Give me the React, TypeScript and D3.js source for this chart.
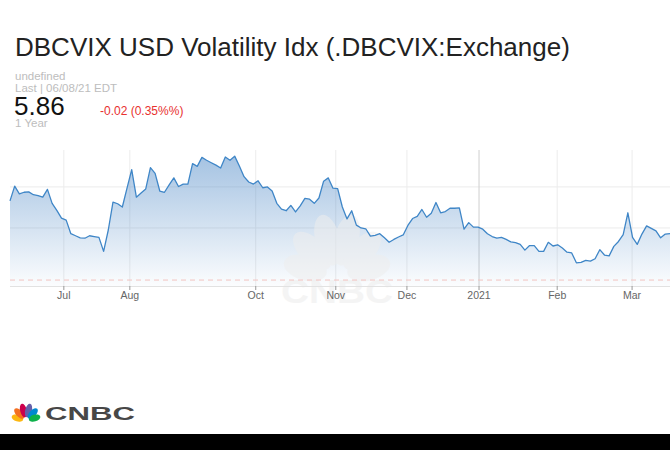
import React from "react";
import * as d3 from "d3";

// DBCVIX closing levels, oldest first (one point per sample in the 1-year window)
const values: number[] = [
  6.66, 7.02, 6.83, 6.87, 6.88, 6.81, 6.79, 6.75, 6.94, 6.6,
  6.43, 6.24, 6.19, 5.86, 5.81, 5.76, 5.75, 5.81, 5.79, 5.77,
  5.43, 5.95, 6.63, 6.59, 6.51, 6.97, 7.42, 6.75, 6.85, 6.95,
  7.47, 7.33, 6.9, 6.87, 7.05, 7.22, 7.01, 7.07, 7.07, 7.57,
  7.5, 7.72, 7.65, 7.59, 7.53, 7.46, 7.73, 7.65, 7.75, 7.51,
  7.25, 7.12, 7.07, 7.15, 6.98, 7.0, 6.9, 6.6, 6.46, 6.42,
  6.55, 6.39, 6.54, 6.72, 6.7, 6.6, 6.73, 7.14, 7.22, 6.97,
  6.96, 6.51, 6.22, 6.42, 6.07, 6.0, 5.98, 5.8, 5.82, 5.86,
  5.76, 5.65, 5.72, 5.78, 5.83, 6.06, 6.23, 6.28, 6.45, 6.26,
  6.36, 6.62, 6.37, 6.4, 6.48, 6.48, 6.49, 5.97, 6.13, 6.02,
  6.02, 5.97, 5.86, 5.79, 5.75, 5.77, 5.72, 5.66, 5.64, 5.6,
  5.46, 5.57, 5.57, 5.43, 5.43, 5.65, 5.56, 5.59, 5.51, 5.41,
  5.39, 5.15, 5.16, 5.21, 5.19, 5.25, 5.47, 5.34, 5.32, 5.55,
  5.67, 5.84, 6.37, 5.77, 5.6, 5.85, 6.05, 5.99, 5.93, 5.76,
  5.85, 5.86,
];

// Month boundaries, given as positions along the sample index
const monthLabels: string[] = ["Jul", "Aug", "Oct", "Nov", "Dec", "2021", "Feb", "Mar"];
const monthAt: number[] = [11.5, 25.6, 52.5, 69.6, 84.8, 100.2, 116.9, 132.9];

const gridLevels: number[] = [6, 7];
const referenceLevel = 4.73;

const titleText = "DBCVIX USD Volatility Idx (.DBCVIX:Exchange)";
const lastPrice = "5.86";
const change = "-0.02 (0.35%%)";

const FONT = "'Liberation Sans', Arial, Helvetica, sans-serif";

const featherColors = ["#fcb711", "#f37021", "#cc004c", "#6460aa", "#0089d0", "#0db14b"];
const featherAngles = [-74, -44, -14, 14, 44, 74];

function Peacock({ cx, cy, s, colors, opacity = 1 }: { cx: number; cy: number; s: number; colors: string[]; opacity?: number }) {
  return (
    <g opacity={opacity}>
      {featherAngles.map((a, i) => {
        const inner = Math.abs(a) < 20;
        const d = (inner ? 38 : Math.abs(a) < 50 ? 36 : 33) * s;
        const ry = (inner ? 26 : Math.abs(a) < 50 ? 24 : 22) * s;
        const rx = 12.5 * s;
        return (
          <ellipse
            key={i}
            cx={cx}
            cy={cy - d}
            rx={rx}
            ry={ry}
            fill={colors[i]}
            transform={`rotate(${a} ${cx} ${cy})`}
          />
        );
      })}
    </g>
  );
}

export default function App() {
  const W = 670;
  const H = 450;
  const left = 10;
  const right = 670;
  const top = 150;
  const bottom = 286;

  const x = d3.scaleLinear().domain([0, values.length - 1]).range([left, right]);
  const y = d3.scaleLinear().domain([4.585, 7.9]).range([bottom, top]);

  const line = d3
    .line<number>()
    .x((_, i) => x(i))
    .y((d) => y(d));
  const area = d3
    .area<number>()
    .x((_, i) => x(i))
    .y0(bottom)
    .y1((d) => y(d));

  const wmColors = featherColors.map(() => "#eeeeee");

  return (
    <svg
      width={W}
      height={H}
      viewBox={`0 0 ${W} ${H}`}
      style={{ position: "absolute", left: 0, top: 0, background: "#fff" }}
    >
      <defs>
        <linearGradient id="areaFill" gradientUnits="userSpaceOnUse" x1="0" y1={top} x2="0" y2={bottom}>
          <stop offset="0%" stopColor="#4a86c5" stopOpacity={0.52} />
          <stop offset="100%" stopColor="#4a86c5" stopOpacity={0.02} />
        </linearGradient>
      </defs>

      {/* header */}
      <text x={15} y={56} fontFamily={FONT} fontSize={26} fill="#222">
        {titleText}
      </text>
      <text x={15} y={80} fontFamily={FONT} fontSize={11.5} fill="#bdbdbd">
        undefined
      </text>
      <text x={15} y={92} fontFamily={FONT} fontSize={11.5} fill="#bdbdbd">
        Last | 06/08/21 EDT
      </text>
      <text x={14} y={115} fontFamily={FONT} fontSize={26} fill="#111">
        {lastPrice}
      </text>
      <text x={100} y={115} fontFamily={FONT} fontSize={12} fill="#e8312f">
        {change}
      </text>
      <text x={15} y={127} fontFamily={FONT} fontSize={11.5} fill="#bdbdbd">
        1 Year
      </text>

      {/* grid */}
      {gridLevels.map((g) => (
        <line key={g} x1={left} x2={right} y1={y(g)} y2={y(g)} stroke="#ebebeb" strokeWidth={1} />
      ))}
      {monthAt.map((m, i) => (
        <line
          key={m}
          x1={x(m)}
          x2={x(m)}
          y1={top}
          y2={bottom}
          stroke={monthLabels[i] === "2021" ? "#cfcfcf" : "#ececec"}
          strokeWidth={1}
        />
      ))}

      {/* series */}
      <path d={area(values) ?? ""} fill="url(#areaFill)" />

      {/* watermark */}
      <g>
        <Peacock cx={337} cy={277} s={1} colors={wmColors} opacity={0.55} />
        <text
          x={337}
          y={303}
          textAnchor="middle"
          fontFamily={FONT}
          fontWeight="bold"
          fontSize={33}
          fill="#eeeeee"
          opacity={0.6}
          textLength={112}
          lengthAdjust="spacingAndGlyphs"
        >
          CNBC
        </text>
      </g>

      <line
        x1={left}
        x2={right}
        y1={y(referenceLevel)}
        y2={y(referenceLevel)}
        stroke="#f2c4c0"
        strokeWidth={1}
        strokeDasharray="5,4"
      />
      <path d={line(values) ?? ""} fill="none" stroke="#3f86c7" strokeWidth={1.3} strokeLinejoin="round" />

      {/* x axis */}
      <line x1={left} x2={right} y1={bottom + 0.5} y2={bottom + 0.5} stroke="#e2e2e2" strokeWidth={1} />
      {monthAt.map((m, i) => (
        <g key={`t${m}`} transform={`translate(${x(m)},0)`}>
          <line y1={bottom} y2={bottom + 4} stroke="#999" strokeWidth={1} />
          <text y={298.5} textAnchor="middle" fontFamily={FONT} fontSize={10.5} fill="#666">
            {monthLabels[i]}
          </text>
        </g>
      ))}

      {/* brand */}
      <Peacock cx={26} cy={420.5} s={0.27} colors={featherColors} />
      <text
        x={45}
        y={419.5}
        fontFamily={FONT}
        fontWeight="bold"
        fontSize={18.5}
        fill="#474747"
        textLength={90}
        lengthAdjust="spacingAndGlyphs"
      >
        CNBC
      </text>
      <rect x={0} y={434} width={W} height={H - 434} fill="#000" />
    </svg>
  );
}
